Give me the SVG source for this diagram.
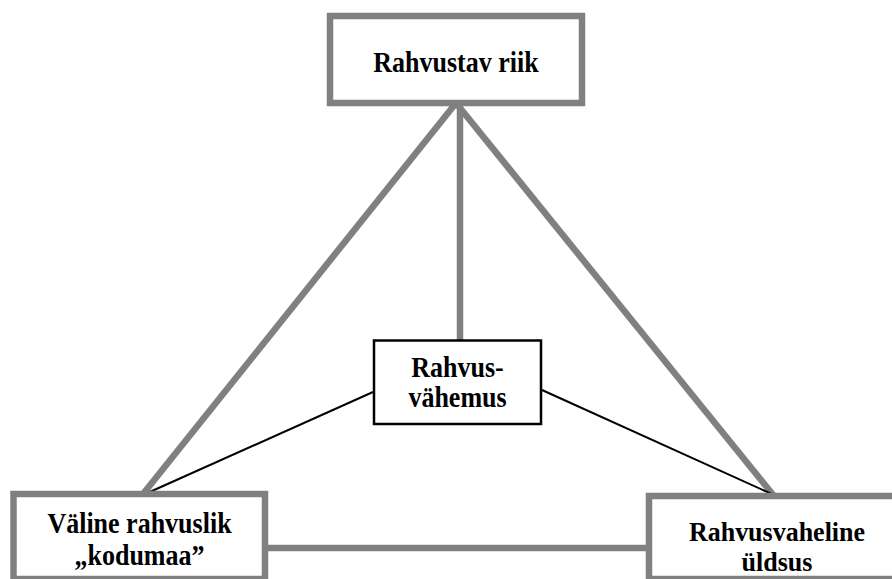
<svg xmlns="http://www.w3.org/2000/svg" width="892" height="579" viewBox="0 0 892 579">
<style>
.box{fill:#fff;stroke:#808080;stroke-width:6.5}
.mid{fill:#fff;stroke:#000;stroke-width:2.5}
.g{stroke:#808080;stroke-width:6.5;fill:none}
.k{stroke:#000;stroke-width:2;fill:none}
text{font-family:"Liberation Serif","Times New Roman",serif;font-weight:bold;font-size:26px;fill:#000;text-anchor:middle}
</style>
<rect width="892" height="579" fill="#fff"/>
<g id="connectors">
<line class="g" x1="456" y1="103" x2="143" y2="494"/>
<line class="g" x1="456" y1="103" x2="774" y2="496"/>
<line class="g" x1="460" y1="103" x2="460" y2="340"/>
<line class="g" x1="265" y1="548" x2="649" y2="548"/>
<line class="k" x1="373" y1="392" x2="143" y2="495"/>
<line class="k" x1="542" y1="390" x2="774" y2="495"/>
</g>
<g id="n-top">
<rect class="box" x="330" y="16" width="252" height="87"/>
<text transform="translate(456 72) scale(1 1.1)">Rahvustav riik</text>
</g>
<g id="n-mid">
<rect class="mid" x="374" y="340.5" width="167" height="83.5"/>
<text transform="translate(457.5 377) scale(1 1.1)">Rahvus-</text>
<text transform="translate(457.5 407) scale(1 1.1)">vähemus</text>
</g>
<g id="n-left">
<rect class="box" x="13.5" y="494" width="251.5" height="85"/>
<text transform="translate(139.5 533) scale(1 1.1)">Väline rahvuslik</text>
<text transform="translate(139.5 565) scale(1 1.1)">„kodumaa”</text>
</g>
<g id="n-right">
<rect class="box" x="649" y="496" width="260" height="83"/>
<text transform="translate(777 540.5) scale(1 1.03)">Rahvusvaheline</text>
<text transform="translate(777 570.5) scale(1 1.03)">üldsus</text>
</g>
</svg>
